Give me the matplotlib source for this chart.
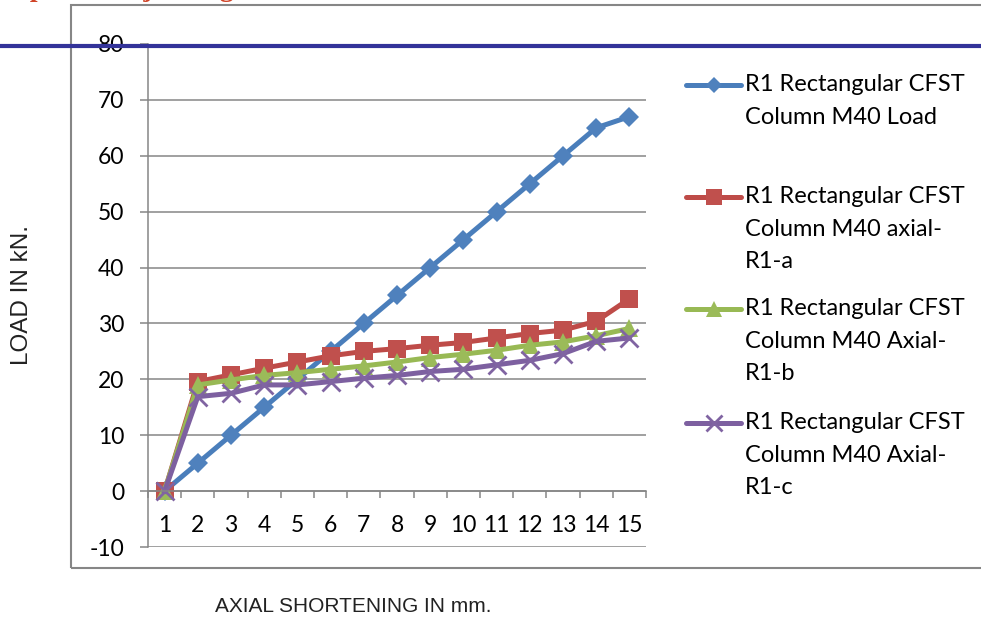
import numpy as np
import matplotlib
matplotlib.use("Agg")
import matplotlib.pyplot as plt
from matplotlib.lines import Line2D
from matplotlib.patches import Rectangle

plt.rcParams["axes.unicode_minus"] = False

# Chart data (load in kN vs. axial shortening step)
steps = list(range(1, 16))
load = [0, 5, 10, 15, 20, 25, 30, 35, 40, 45, 50, 55, 60, 65, 67]
axial_a = [0, 19.6, 20.8, 22.0, 23.1, 24.2, 25.0, 25.5, 26.1, 26.6, 27.4, 28.2, 28.8, 30.4, 34.4]
axial_b = [0, 19.0, 19.9, 20.7, 21.2, 21.8, 22.4, 23.1, 23.9, 24.5, 25.2, 26.1, 26.7, 27.8, 29.1]
axial_c = [0, 16.9, 17.5, 19.0, 19.0, 19.6, 20.2, 20.7, 21.4, 21.8, 22.6, 23.4, 24.6, 26.8, 27.4]

labels = [
    "R1 Rectangular CFST\nColumn M40 Load",
    "R1 Rectangular CFST\nColumn M40 axial-\nR1-a",
    "R1 Rectangular CFST\nColumn M40 Axial-\nR1-b",
    "R1 Rectangular CFST\nColumn M40 Axial-\nR1-c",
]
y_ticks = list(range(-10, 81, 10))

W, H = 981, 626
grey = "#868686"
font = "Lato"

# Excel-ish series styles
styles = [
    dict(color="#4A7EBB", marker="D", ms=10, mfc="#4F81BD", mec="#4F81BD", mew=0),
    dict(color="#BE4B48", marker="s", ms=13, mfc="#C0504D", mec="#C0504D", mew=0),
    dict(color="#98B954", marker="^", ms=13.5, mfc="#9BBB59", mec="#9BBB59", mew=0),
    dict(color="#7D60A0", marker="x", ms=13, mfc="#8064A2", mec="#8064A2", mew=2),
]
series = [load, axial_a, axial_b, axial_c]

fig = plt.figure(figsize=(W / 100, H / 100), dpi=100)


def px(x, y):
    # pixel (from top-left) -> figure fraction
    return x / W, 1 - y / H


# outer chart frame
x0, y0 = px(71, 5)
x1, y1 = px(1000, 568)
fig.add_artist(Rectangle((x0, y1), x1 - x0, y0 - y1, transform=fig.transFigure,
                         fill=False, edgecolor=grey, lw=1.5, zorder=0))

left, top = px(148, 44)
right, bottom = px(646, 547)
ax = fig.add_axes([left, bottom, right - left, top - bottom])

for vals, st in zip(series, styles):
    ax.plot(steps, vals, lw=3.6, solid_joinstyle="round", clip_on=False, **st)

ax.set_xlim(0.5, 15.5)
ax.set_ylim(-10, 80)
ax.set_yticks(y_ticks)
ax.yaxis.grid(True, color=grey, lw=1.1)
ax.set_axisbelow(True)

for s in ["top", "right"]:
    ax.spines[s].set_visible(False)
ax.spines["bottom"].set_position(("data", 0))
ax.spines["bottom"].set_color(grey)
ax.spines["bottom"].set_linewidth(1.1)
ax.spines["left"].set_color(grey)
ax.spines["left"].set_linewidth(1.1)

ax.set_xticks(steps)
ax.set_xticklabels([str(s) for s in steps], fontfamily=font, fontsize=16.5)
ax.set_xticks(np.arange(0.5, 15.6, 1), minor=True)
ax.tick_params(axis="x", which="major", length=0, pad=17)
ax.tick_params(axis="x", which="minor", length=5, width=1.1, color=grey, direction="out")
ax.tick_params(axis="y", length=6, width=1.1, color=grey, pad=11)
for t in ax.get_yticklabels():
    t.set_fontfamily(font)
    t.set_fontsize(16.5)

# axis titles
fig.text(*px(22, 295), "LOAD IN kN.", rotation=90, ha="center", va="center",
         fontfamily="Liberation Sans", fontsize=17.5, color="#222222")
fig.text(*px(353, 607), "AXIAL SHORTENING IN mm.", ha="center", va="center",
         fontfamily="Liberation Sans", fontsize=15, color="#222222")

# legend, drawn by hand to keep Excel's even slots
rows = [85, 197, 309, 423]
for ly, lab, st in zip(rows, labels, styles):
    lx0, yy = px(686, ly)
    lx1, _ = px(741, ly)
    mid = (lx0 + lx1) / 2
    fig.add_artist(Line2D([lx0, lx1], [yy, yy], transform=fig.transFigure,
                          color=st["color"], lw=3.6, solid_capstyle="round"))
    fig.add_artist(Line2D([mid], [yy], transform=fig.transFigure, lw=0,
                          marker=st["marker"], ms=st["ms"] * 0.85, mfc=st["mfc"],
                          mec=st["mec"], mew=st["mew"]))
    fig.text(745 / W, 1 - (ly - 11) / H, lab, ha="left", va="top",
             fontfamily=font, fontsize=17, linespacing=1.68, color="black")

# page decorations: blue rule and clipped red header
fig.add_artist(Line2D([0, 1], [1 - 46 / H] * 2, transform=fig.transFigure,
                      color="#333399", lw=3, zorder=10))
fig.text(-4 / W, 1 + 4 / H, "http://www.ijert.org", ha="left", va="baseline",
         fontfamily="Liberation Serif", fontsize=20, fontweight="bold", color="#D04428")

fig.savefig("out.png", dpi=100)
